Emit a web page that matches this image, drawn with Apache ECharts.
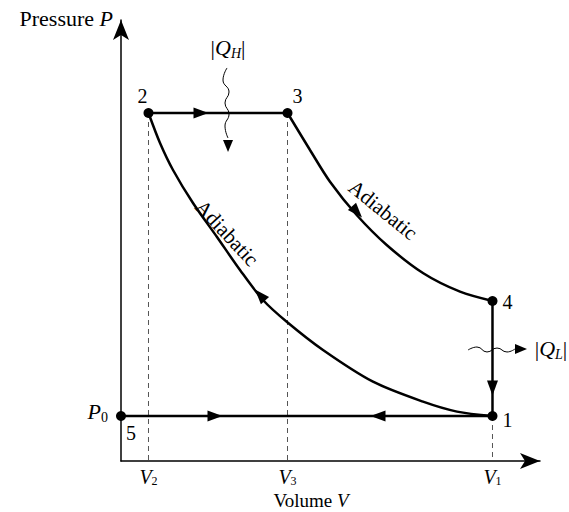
<!DOCTYPE html>
<html>
<head>
<meta charset="utf-8">
<script src="https://cdn.jsdelivr.net/npm/echarts@6/dist/echarts.min.js"></script>
<style>
html, body { margin: 0; padding: 0; background: #fff; }
#main { width: 569px; height: 512px; }
</style>
</head>
<body>
<div id="main"></div>
<script>
// state points (volume, pressure in arbitrary units)
var V2 = 0.656, V3 = 3.974, V1 = 8.866;
var P0 = 1.02, P2 = 7.891, P4 = 3.628;

var stateNames = ['1', '2', '3', '4', '5'];
var stateV = [V1, V2, V3, V1, 0];
var stateP = [P0, P2, P2, P4, P0];

// adiabat 3 -> 4
var upperV = [3.974, 4.511, 4.988, 5.625, 6.341, 7.215, 8.091, 8.866];
var upperP = [7.891, 7.052, 6.333, 5.578, 4.898, 4.256, 3.839, 3.628];
// adiabat 1 -> 2
var lowerV = [0.656, 0.931, 1.241, 1.718, 2.291, 2.840, 3.389, 3.962, 4.821, 6.014, 7.208, 8.019, 8.866];
var lowerP = [7.891, 7.211, 6.599, 5.850, 5.079, 4.331, 3.651, 3.152, 2.517, 1.798, 1.345, 1.120, 1.020];

// arrow heads on the cycle
var arrowV = [1.909, 5.632, 8.866, 6.134, 2.243, 3.317];
var arrowP = [P2, 5.646, 1.655, P0, P0, 3.764];
var arrowRot = [-90, -138, 180, 90, -90, 42];

// heat flow squiggles |Q_H| and |Q_L|
var qhV = [2.530, 2.434, 2.578, 2.482, 2.578, 2.482, 2.554];
var qhP = [8.912, 8.639, 8.367, 8.118, 7.868, 7.596, 7.324];
var qlV = [8.282, 8.496, 8.735, 8.974, 9.212, 9.403];
var qlP = [2.517, 2.585, 2.472, 2.562, 2.472, 2.540];
var tipV = [2.554, 9.547];
var tipP = [7.143, 2.540];
var tipRot = [180, -90];

// "Adiabatic" captions
var adiaV = [6.253, 2.530];
var adiaP = [5.692, 5.170];
var adiaRot = [-39, -47];

var tickV = [V2, V3, V1];
var tickSub = ['2', '3', '1'];

// label offsets (px) for the state numbers
var stateOffsets = [[15, 4], [-6, -17], [10, -17], [15, 1], [10, 17]];

var serif = '"Liberation Serif", "Times New Roman", serif';
var ink = '#000';

function pairs(xs, ys) {
    return xs.map(function (x, i) { return [x, ys[i]]; });
}

var rich = {
    i: { fontStyle: 'italic', fontFamily: serif, fontSize: 22, lineHeight: 26, color: ink },
    s: { fontFamily: serif, fontSize: 14, lineHeight: 14, verticalAlign: 'bottom', color: ink },
    si: { fontFamily: serif, fontStyle: 'italic', fontSize: 14, lineHeight: 12, verticalAlign: 'bottom', color: ink }
};
// tighter boxes for the volume ticks and axis name
var richTick = {
    i: { fontStyle: 'italic', fontFamily: serif, fontSize: 20, lineHeight: 20, color: ink },
    s: { fontFamily: serif, fontSize: 12, lineHeight: 9, verticalAlign: 'bottom', color: ink }
};
var richName = {
    i: { fontStyle: 'italic', fontFamily: serif, fontSize: 19, lineHeight: 20, color: ink }
};

function pathLine(name, data, smooth) {
    return {
        name: name, type: 'line', data: data, smooth: smooth || false,
        symbol: 'none', clip: false, silent: true,
        lineStyle: { color: ink, width: 2.5 }
    };
}

function dashLine(v, pTop) {
    return {
        type: 'line', data: [[v, pTop], [v, 0]], symbol: 'none', clip: false, silent: true,
        lineStyle: { color: '#555', width: 1, type: [5, 4] }, z: 1
    };
}

var myChart = echarts.init(document.getElementById('main'), null, { renderer: 'svg' });

var option = {
    animation: false,
    backgroundColor: '#fff',
    grid: { left: 121, right: 29, top: 20, bottom: 51, outerBoundsMode: 'none', containLabel: false },
    xAxis: {
        type: 'value', min: 0, max: 10,
        axisLine: { show: true, symbol: ['none', 'arrow'], symbolSize: [12, 20], lineStyle: { color: ink, width: 1.5 } },
        axisTick: { show: false },
        splitLine: { show: false },
        axisLabel: {
            customValues: tickV,
            margin: 6,
            rich: richTick,
            formatter: function (v) {
                var k = 0;
                for (var j = 1; j < tickV.length; j++) {
                    if (Math.abs(tickV[j] - v) < Math.abs(tickV[k] - v)) k = j;
                }
                return '{i|V}{s|' + tickSub[k] + '}';
            }
        },
        name: 'Volume {i|V}',
        nameLocation: 'middle',
        nameGap: 29,
        nameMoveOverlap: false,
        nameTextStyle: { fontFamily: serif, fontSize: 19, lineHeight: 20, color: ink, padding: [0, 39, 0, 0], rich: richName }
    },
    yAxis: {
        type: 'value', min: 0, max: 10,
        axisLine: { show: true, symbol: ['none', 'arrow'], symbolSize: [12, 20], lineStyle: { color: ink, width: 1.5 } },
        axisTick: { show: false },
        splitLine: { show: false },
        axisLabel: {
            customValues: [P0],
            margin: 13,
            rich: rich,
            padding: [0, 0, 10, 0],
            formatter: function () { return '{i|P}{s|0}'; }
        },
        name: 'Pressure {i|P}',
        nameLocation: 'end',
        nameGap: 2,
        nameMoveOverlap: false,
        nameTextStyle: { fontFamily: serif, fontSize: 22, lineHeight: 26, color: ink, align: 'right', verticalAlign: 'middle', padding: [0, 8, 0, 0], rich: rich }
    },
    series: [
        dashLine(V2, P2),
        dashLine(V3, P2),
        dashLine(V1, P0),
        pathLine('2-3', [[V2, P2], [V3, P2]]),
        pathLine('3-4', pairs(upperV, upperP), 0.3),
        pathLine('4-1', [[V1, P4], [V1, P0]]),
        pathLine('1-2', pairs(lowerV, lowerP), 0.3),
        pathLine('5-1', [[0, P0], [V1, P0]]),
        {
            type: 'line', data: pairs(qhV, qhP), smooth: 0.5, symbol: 'none', clip: false, silent: true,
            lineStyle: { color: ink, width: 1 }
        },
        {
            type: 'line', data: pairs(qlV, qlP), smooth: 0.5, symbol: 'none', clip: false, silent: true,
            lineStyle: { color: ink, width: 1 }
        },
        {
            type: 'scatter', clip: false, silent: true, z: 5,
            symbol: 'triangle', symbolSize: [11, 15],
            itemStyle: { color: ink, opacity: 1 },
            data: arrowV.map(function (v, i) {
                return { value: [v, arrowP[i]], symbolRotate: arrowRot[i] };
            })
        },
        {
            type: 'scatter', clip: false, silent: true, z: 5,
            symbol: 'triangle', symbolSize: [10, 12],
            itemStyle: { color: ink, opacity: 1 },
            data: tipV.map(function (v, i) {
                return { value: [v, tipP[i]], symbolRotate: tipRot[i] };
            }),
            label: {
                show: true,
                fontFamily: serif, fontSize: 22, lineHeight: 26, color: ink, rich: rich,
                textBorderWidth: 0,
                formatter: function (p) { return p.dataIndex === 0 ? '|{i|Q}{si|H}|' : '|{i|Q}{si|L}|'; },
                position: 'inside'
            },
            labelLayout: function (p) {
                return p.dataIndex === 0 ? { dy: -98 } : { dx: 30 };
            }
        },
        {
            type: 'scatter', clip: false, silent: true, z: 6,
            symbol: 'circle', symbolSize: 10,
            itemStyle: { color: ink, opacity: 1 },
            data: stateV.map(function (v, i) {
                return {
                    value: [v, stateP[i]],
                    label: { offset: stateOffsets[i] }
                };
            }),
            label: {
                show: true, position: 'inside',
                fontFamily: serif, fontSize: 20, color: ink, textBorderWidth: 0,
                formatter: function (p) { return stateNames[p.dataIndex]; }
            }
        },
        {
            type: 'scatter', clip: false, silent: true, z: 6,
            symbolSize: 0,
            itemStyle: { opacity: 1 },
            data: adiaV.map(function (v, i) {
                return { value: [v, adiaP[i]], label: { rotate: adiaRot[i] } };
            }),
            label: {
                show: true, position: 'inside',
                fontFamily: serif, fontSize: 21, color: ink, textBorderWidth: 0,
                formatter: 'Adiabatic'
            }
        }
    ]
};
myChart.setOption(option);
</script>
</body>
</html>
